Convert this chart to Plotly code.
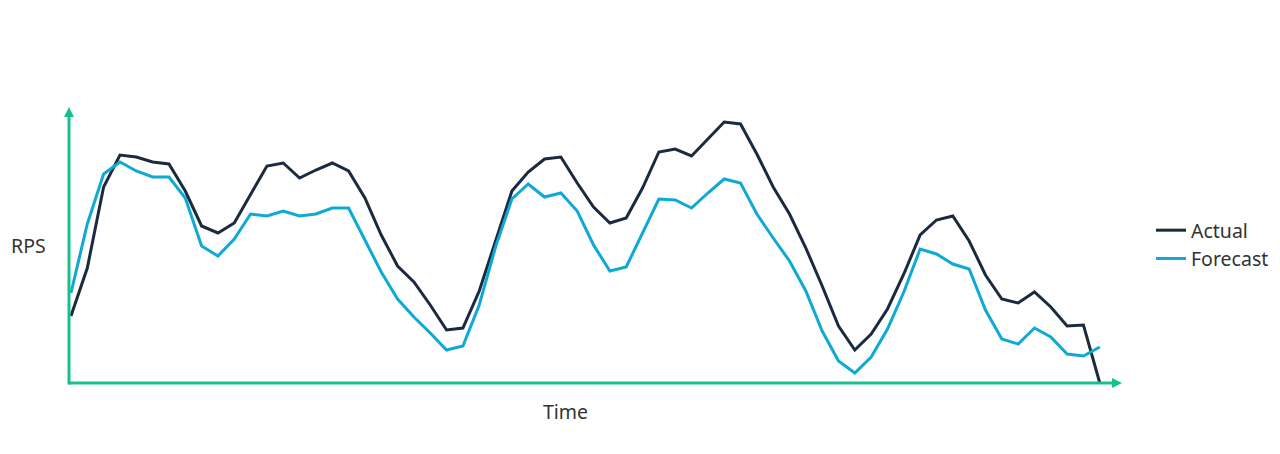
import plotly.graph_objects as go

time_index = list(range(64))
actual = [67, 115, 196, 228, 226, 221, 219, 192, 157, 150,
          160, 189, 217, 220, 205, 213, 220, 212, 185, 148,
          117, 101, 78, 53, 55, 92, 141, 192, 211, 224,
          226, 200, 176, 160, 165, 195, 231, 234, 227, 244,
          261, 259, 229, 196, 169, 135, 97, 57, 33, 49,
          74, 109, 148, 163, 167, 142, 108, 84, 80, 91,
          76, 57, 58, 0]
forecast = [90, 159, 209, 221, 212, 206, 206, 185, 137, 127,
            144, 169, 167, 172, 167, 169, 175, 175, 143, 111,
            84, 66, 50, 33, 37, 78, 136, 184, 199, 186,
            190, 172, 138, 112, 116, 150, 184, 183, 175, 190,
            204, 200, 169, 145, 122, 92, 52, 22, 10, 26,
            54, 91, 134, 129, 119, 114, 73, 44, 39, 55,
            46, 29, 27, 36]

NAVY = "#1b2a3e"
CYAN = "#0ea9d5"
GREEN = "#16c08c"
TEXT = "#333333"
FONT = "Noto Sans"
FS = 19.5

fig = go.Figure()
fig.add_trace(go.Scatter(x=time_index, y=actual, mode="lines", name="Actual",
                         line=dict(color=NAVY, width=3)))
fig.add_trace(go.Scatter(x=time_index, y=forecast, mode="lines", name="Forecast",
                         line=dict(color=CYAN, width=3)))

W, H = 1280, 454
ml, mr, mt, mb = 69, 158, 107, 71
pw = W - ml - mr
ph = H - mt - mb
ax_len = 10 / pw
ay_len = 10 / ph
hx = 5 / pw
hy = 5 / ph

shapes = [
    dict(type="line", xref="paper", yref="paper", x0=0, y0=0, x1=1 - ax_len, y1=0,
         line=dict(color=GREEN, width=3)),
    dict(type="line", xref="paper", yref="paper", x0=0, y0=-1.5 / ph, x1=0, y1=1 - ay_len,
         line=dict(color=GREEN, width=3)),
    dict(type="path", xref="paper", yref="paper",
         path=f"M {1 - ax_len},{-hy} L 1,0 L {1 - ax_len},{hy} Z",
         fillcolor=GREEN, line=dict(color=GREEN, width=0)),
    dict(type="path", xref="paper", yref="paper",
         path=f"M {-hx},{1 - ay_len} L 0,1 L {hx},{1 - ay_len} Z",
         fillcolor=GREEN, line=dict(color=GREEN, width=0)),
]

annotations = [
    dict(text="RPS", xref="paper", yref="paper", x=(28.5 - ml) / pw, y=(H - mb - 245) / ph,
         showarrow=False, xanchor="center", yanchor="middle",
         font=dict(family=FONT, size=FS, color=TEXT)),
    dict(text="Time", xref="paper", yref="paper", x=(565 - ml) / pw, y=(H - mb - 411) / ph,
         showarrow=False, xanchor="center", yanchor="middle",
         font=dict(family=FONT, size=FS, color=TEXT)),
]

fig.update_layout(
    width=W, height=H,
    margin=dict(l=ml, r=mr, t=mt, b=mb, autoexpand=False),
    paper_bgcolor="white", plot_bgcolor="white",
    xaxis=dict(range=[-0.12, 64.36], showgrid=False, zeroline=False,
               showticklabels=False, showline=False, ticks=""),
    yaxis=dict(range=[0, ph], showgrid=False, zeroline=False,
               showticklabels=False, showline=False, ticks=""),
    showlegend=True,
    legend=dict(xref="container", yref="container",
                x=1151 / W, y=(H - 244.5) / H, xanchor="left", yanchor="middle",
                font=dict(family=FONT, size=FS, color=TEXT),
                bgcolor="rgba(0,0,0,0)"),
    shapes=shapes,
    annotations=annotations,
    font=dict(family=FONT),
)

fig.write_html("out.html", config={"displayModeBar": False},
               post_script="document.body.style.margin='0';document.body.style.overflow='hidden';")
